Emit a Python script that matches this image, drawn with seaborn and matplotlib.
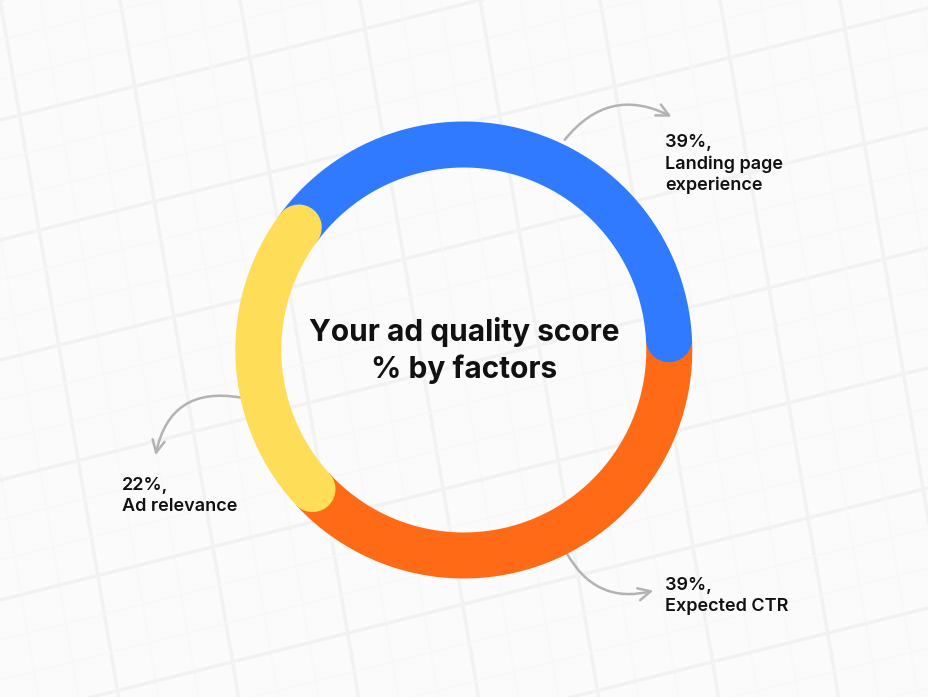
import numpy as np
import matplotlib.pyplot as plt
import seaborn as sns
from matplotlib.patches import FancyArrowPatch

# data
factors = ["Landing page\nexperience", "Ad relevance", "Expected CTR"]
shares = [39, 22, 39]
colors = ["#2F7AFE", "#FEDD58", "#FF6A16"]
title_lines = ["Your ad quality score", "% by factors"]

sns.set_theme(style="white")
plt.rcParams["font.family"] = ["Inter", "DejaVu Sans"]

W, H = 929, 697
fig = plt.figure(figsize=(W / 100, H / 100), dpi=100)
fig.patch.set_facecolor("#fbfbfb")
ax = fig.add_axes([0, 0, 1, 1])
ax.set_facecolor("#fbfbfb")
ax.set_xlim(0, W)
ax.set_ylim(H, 0)
ax.axis("off")

# faint tilted grid in the background
for k in np.arange(-400, 1400, 40):
    major = (k % 120) == 0
    c = "#f2f2f2" if major else "#f8f8f8"
    lw = 2.5 if major else 1.0
    yy = np.array([-50, 750])
    ax.plot(k + 0.17 * yy, yy, color=c, lw=lw, zorder=0)
    xx = np.array([-50, 1000])
    ax.plot(xx, k - 0.25 * xx, color=c, lw=lw, zorder=0)

# ring geometry
cx, cy, r = 463.8, 350, 205.5
ring_lw = 46 * 0.72
start = 3.0  # degrees, end of the blue arc on the right

# angles of each segment (counter-clockwise from the right)
bounds = start + np.concatenate([[0], np.cumsum(shares)]) * 3.6
segs = {}
for i, f in enumerate(factors):
    th = np.radians(np.linspace(bounds[i], bounds[i + 1], 200))
    segs[i] = (cx + r * np.cos(th), cy - r * np.sin(th))

# draw order: orange under, then blue, then yellow on top
for i, cap in [(2, "butt"), (0, "round"), (1, "round")]:
    x, y = segs[i]
    sns.lineplot(x=x, y=y, sort=False, estimator=None, color=colors[i],
                 linewidth=ring_lw, solid_capstyle=cap, ax=ax, zorder=3)
ax.axis("off")

# center text
ax.text(cx, 341, title_lines[0], ha="center", va="baseline", fontsize=21.5,
        fontweight="bold", color="#111111", zorder=5)
ax.text(cx, 378, title_lines[1], ha="center", va="baseline", fontsize=21.5,
        fontweight="bold", color="#111111", zorder=5)

# labels
lab_pos = [(665, 134), (122, 477), (665, 577)]
for (lx, ly), s, f in zip(lab_pos, shares, factors):
    ax.text(lx, ly, f"{s}%,\n{f}", ha="left", va="top", fontsize=13,
            fontweight="semibold", color="#111111", linespacing=1.3, zorder=5)

# curved arrows
arrows = [((563, 142), (674, 118), -0.42),
          ((243, 398), (155, 458), 0.5),
          ((565, 550), (656, 590), 0.4)]
for a, b, rad in arrows:
    ax.add_patch(FancyArrowPatch(a, b, connectionstyle=f"arc3,rad={rad}",
                                 arrowstyle="->", mutation_scale=22,
                                 color="#b3b3b3", lw=1.8, zorder=2))

fig.savefig("out.png", dpi=100, facecolor=fig.get_facecolor())
